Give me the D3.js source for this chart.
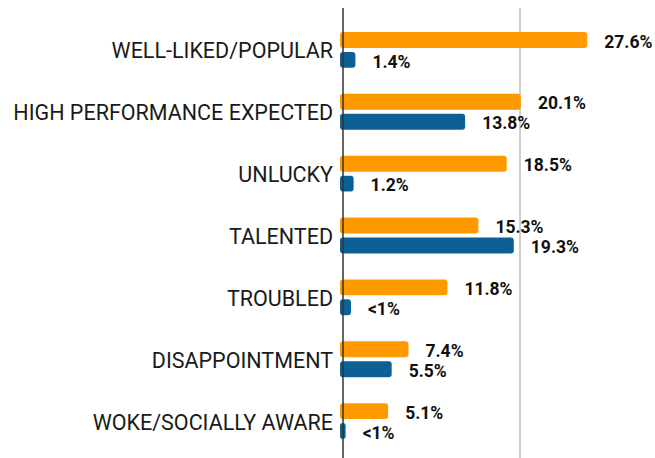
<!DOCTYPE html>
<html>
<head>
<meta charset="utf-8">
<script src="https://cdn.jsdelivr.net/npm/d3@7"></script>
<style>
html,body{margin:0;padding:0;background:#fff;}
svg{display:block;}
</style>
</head>
<body>
<svg id="chart" width="655" height="458"></svg>
<script>
const categories = ["WELL-LIKED/POPULAR","HIGH PERFORMANCE EXPECTED","UNLUCKY","TALENTED","TROUBLED","DISAPPOINTMENT","WOKE/SOCIALLY AWARE"];
const seriesNames = ["orange","blue"];
const orangeValues = [27.6, 20.1, 18.5, 15.3, 11.8, 7.4, 5.1];
const blueValues = [1.4, 13.8, 1.2, 19.3, 0.9, 5.5, 0.3];
const orangeLabels = ["27.6%","20.1%","18.5%","15.3%","11.8%","7.4%","5.1%"];
const blueLabels = ["1.4%","13.8%","1.2%","19.3%","<1%","5.5%","<1%"];
const gridTicks = [20];
const colors = {orange:"#ff9900", blue:"#0b6194"};

const svg = d3.select("#chart");
const x0 = 343;
const x = d3.scaleLinear().domain([0, 20]).range([x0, 520]);
const y = d3.scaleBand().domain(categories).range([19, 452]).paddingInner(0.42).paddingOuter(0.21);
const ys = d3.scaleBand().domain(seriesNames).range([0, y.bandwidth()]).paddingInner(0.2);

// gridlines
svg.selectAll("line.grid").data(gridTicks).join("line")
  .attr("class","grid")
  .attr("x1", d => x(d)).attr("x2", d => x(d))
  .attr("y1", 8).attr("y2", 458)
  .attr("stroke", "#cfcfcf").attr("stroke-width", 2);

const rows = categories.map((c, i) => ({
  cat: c,
  vals: [
    {s:"orange", v: orangeValues[i], l: orangeLabels[i]},
    {s:"blue", v: blueValues[i], l: blueLabels[i]}
  ]
}));

const g = svg.selectAll("g.row").data(rows).join("g")
  .attr("class","row")
  .attr("transform", d => `translate(0,${y(d.cat)})`);

g.selectAll("rect").data(d => d.vals).join("rect")
  .attr("x", x0 - 3)
  .attr("y", d => ys(d.s))
  .attr("width", d => x(d.v) - x0 + 3)
  .attr("height", ys.bandwidth())
  .attr("rx", 3)
  .attr("fill", d => colors[d.s]);

g.selectAll("text.val").data(d => d.vals).join("text")
  .attr("class","val")
  .attr("x", d => x(d.v) + 17)
  .attr("y", d => ys(d.s) + ys.bandwidth()/2 + 1.5)
  .attr("dy", "0.35em")
  .attr("font-family", "Roboto, sans-serif")
  .attr("font-weight", "bold")
  .attr("font-size", 17.5)
  .attr("fill", "#111")
  .text(d => d.l);

// category labels
svg.selectAll("text.cat").data(categories).join("text")
  .attr("class","cat")
  .attr("x", 333)
  .attr("y", d => y(d) + y.bandwidth()/2 + 1)
  .attr("dy", "0.35em")
  .attr("text-anchor", "end")
  .attr("font-family", "Roboto, sans-serif")
  .attr("font-size", 21.5)
  .attr("fill", "#1a1a1a")
  .text(d => d);

// axis line
svg.append("line")
  .attr("x1", x0).attr("x2", x0)
  .attr("y1", 8).attr("y2", 458)
  .attr("stroke", "#333").attr("stroke-width", 1.5);
</script>
</body>
</html>
